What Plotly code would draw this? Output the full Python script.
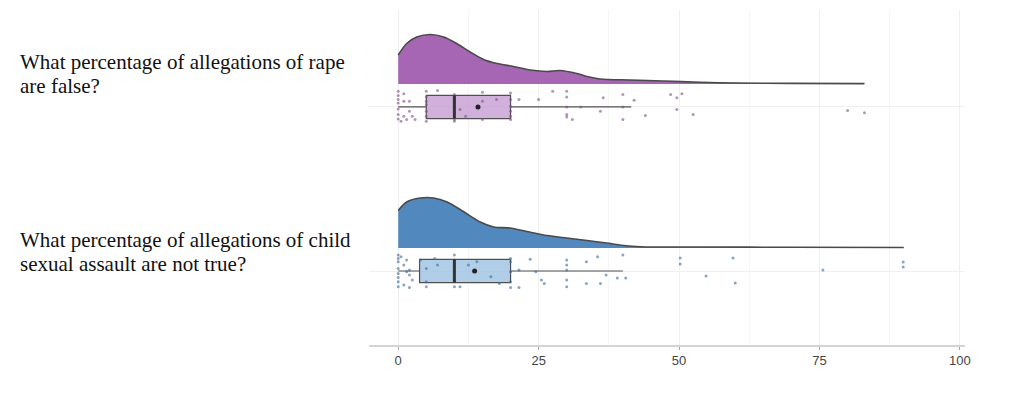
import plotly.graph_objects as go

# ---------------- data ----------------
questions = [["What percentage of allegations of rape", "are false?"],
             ["What percentage of allegations of child", "sexual assault are not true?"]]

tick_vals = [0, 25, 50, 75, 100]
tick_text = ["0", "25", "50", "75", "100"]

# density curves (relative height, peak ~1)
rape_dens_x = [0, 1.5, 3.3, 5.7, 8.1, 10.4, 12.8, 15.2, 17.6, 20.5, 23.5, 26.5, 28.8,
               31.8, 33.6, 35.9, 41.3, 47.2, 53.7, 60, 70, 83]
rape_dens_y = [0.58, 0.81, 0.94, 0.99, 0.94, 0.81, 0.64, 0.49, 0.41, 0.35, 0.28, 0.25, 0.27,
               0.21, 0.15, 0.10, 0.08, 0.06, 0.034, 0.02, 0.012, 0.008]
child_dens_x = [0, 1.5, 3.9, 6.3, 8.7, 11.6, 14.6, 17, 19.9, 22.9, 26.5, 30, 33.6, 37.1,
                40.1, 43.1, 53.7, 70, 90]
child_dens_y = [0.75, 0.92, 1.0, 1.0, 0.92, 0.73, 0.52, 0.42, 0.40, 0.33, 0.25, 0.20, 0.15,
                0.10, 0.052, 0.026, 0.02, 0.016, 0.012]

# box statistics
rape_box = dict(q1=5, median=10, q3=20, lo=0, hi=41.5, mean=14.2)
child_box = dict(q1=3.8, median=10, q3=20, lo=0, hi=40, mean=13.6)

# raw responses (as visible) and their jitter fractions
rape_vals = [0, 0, 0, 0, 0, 0, 0, 1, 1, 1, 0.5, 2, 2.5, 3, 2, 1.5, 5, 5, 5, 5, 5, 5, 5, 7,
             10, 10, 10, 10, 10, 10, 10, 11, 12, 15, 15, 15, 17.5, 20, 20, 20, 20, 20, 20,
             21.5, 25, 27.5, 30, 30, 30, 30, 30, 31, 32.5, 36, 36.5, 40, 40, 40, 42, 44,
             48.5, 49.6, 49.6, 50.5, 52.5, 80, 83]
rape_jit = [0.91, 0.66, 0.43, 0.23, -0.12, -0.44, -0.70, 0.77, 0.33, -0.54, -0.83, 0.33, -0.54,
            -0.73, -0.25, -0.73, 0.91, 0.58, 0.14, -0.25, -0.54, -0.83, 0.33, 0.95,
            0.72, 0.43, 0.0, -0.35, -0.73, -0.83, 0.23, -0.15, -0.54, 0.85, 0.33, -0.73, 0.43,
            0.81, 0.43, 0.04, -0.25, -0.54, -0.73, 0.43, 0.43, 0.91, 0.91, 0.58, 0.0, -0.44,
            -0.58, -0.73, 0.0, -0.25, 0.54, 0.72, 0.0, -0.73, 0.39, -0.5, 0.72, -0.15, 0.54,
            0.77, -0.44, -0.21, -0.33]
child_vals = [0, 0, 0, 0, 0, 0, 0, 0, 0.5, 1, 1.5, 2, 2.5, 1, 2, 1.5, 2, 4, 5, 5, 5, 6.5, 7,
              10, 10, 10, 10, 10, 11, 12.5, 14, 16.5, 18, 20, 20, 20, 20, 20, 21.5, 21.5, 23.5,
              24.5, 25.5, 26, 30, 30, 30, 30, 30, 33.5, 33.5, 35.5, 37, 36, 39, 40.5, 40,
              50.2, 50.2, 59.6, 75.6, 89.9, 89.9, 54.8, 60]
child_jit = [0.93, 0.73, 0.54, 0.15, -0.14, -0.37, -0.62, -0.91, 0.83, 0.35, -0.04, -0.23, -0.52,
             -0.81, -0.95, 0.64, 0.06, 0.64, 0.15, -0.62, -0.91, 0.73, 0.35, 0.93, 0.64, -0.04,
             -0.91, -0.52, -0.91, 0.35, 0.54, -0.33, -0.72, 0.73, 0.54, -0.04, -0.62, -0.95,
             0.06, -0.95, 0.68, -0.04, -0.52, -0.72, 0.64, 0.35, 0.06, -0.52, -0.91, 0.54,
             -0.72, 0.83, -0.23, -0.72, -0.41, -0.41, 0.93, 0.75, 0.41, 0.75, 0.06, 0.52, 0.23,
             -0.29, -0.70]

# ---------------- styling ----------------
groups = [
    dict(center=2, lines=questions[0], dx=rape_dens_x, dy=rape_dens_y, box=rape_box,
         vals=rape_vals, jit=rape_jit, dens_col="#a666b4", box_col="rgba(198,156,210,0.8)",
         pt_col="rgba(125,80,135,0.6)", label_y=[2.274, 2.128]),
    dict(center=1, lines=questions[1], dx=child_dens_x, dy=child_dens_y, box=child_box,
         vals=child_vals, jit=child_jit, dens_col="#5189bf", box_col="rgba(158,194,226,0.8)",
         pt_col="rgba(60,105,155,0.6)", label_y=[1.189, 1.043]),
]
DENS_OFF = 0.14
DENS_H = 0.305
BOX_HALF = 0.071
JIT_HALF = 0.105

# page body has an 8px margin; compensate so plot area sits at x 369..965, y 10..345
BODY = 8
ML, MR, MT, MB = 369 - BODY, 59, 10 - BODY, 48
PLOT_W = 1024 - BODY - ML - MR

fig = go.Figure()
for g in groups:
    c = g["center"]
    base = c + DENS_OFF
    fig.add_trace(go.Scatter(x=g["dx"], y=[base] * len(g["dx"]), mode="lines",
                             line=dict(width=0, color=g["dens_col"]), hoverinfo="skip",
                             showlegend=False))
    fig.add_trace(go.Scatter(x=g["dx"], y=[base + v * DENS_H for v in g["dy"]], mode="lines",
                             line=dict(width=1.6, color="#4a4a4a", shape="spline", smoothing=0.8),
                             fill="tonexty", fillcolor=g["dens_col"], hoverinfo="skip",
                             showlegend=False))
    b = g["box"]
    fig.add_trace(go.Box(orientation="h", y=[c], q1=[b["q1"]], median=[b["median"]],
                         q3=[b["q3"]], lowerfence=[b["lo"]], upperfence=[b["hi"]],
                         width=2 * BOX_HALF, whiskerwidth=0, fillcolor=g["box_col"],
                         line=dict(color="#505050", width=1.2), showlegend=False,
                         hoverinfo="skip"))
    fig.add_trace(go.Scatter(x=g["vals"], y=[c + j * JIT_HALF for j in g["jit"]],
                             mode="markers", marker=dict(size=3, color=g["pt_col"]),
                             hoverinfo="skip", showlegend=False))
    fig.add_trace(go.Scatter(x=[b["median"], b["median"]], y=[c - BOX_HALF, c + BOX_HALF],
                             mode="lines", line=dict(color="#333333", width=3),
                             hoverinfo="skip", showlegend=False))
    fig.add_trace(go.Scatter(x=[b["mean"]], y=[c], mode="markers",
                             marker=dict(size=5, color="#222222"), hoverinfo="skip",
                             showlegend=False))
    for line_text, ly in zip(g["lines"], g["label_y"]):
        fig.add_annotation(text=line_text, xref="paper", yref="y", x=(18 - 369) / PLOT_W,
                           y=ly, xanchor="left", yanchor="middle", showarrow=False,
                           align="left", font=dict(family="Liberation Serif", size=21,
                                                    color="#111111"))

fig.update_layout(
    width=1024 - BODY, height=393 - BODY,
    margin=dict(l=ML, r=MR, t=MT, b=MB),
    paper_bgcolor="white", plot_bgcolor="white",
    xaxis=dict(range=[-5.2, 100.9], tickvals=tick_vals, ticktext=tick_text,
               showgrid=True, gridcolor="#efefef", gridwidth=1,
               minor=dict(dtick=12.5, tick0=0, showgrid=True, gridcolor="#f6f6f6"),
               zeroline=False, showline=True, linecolor="#d4d4d4", linewidth=1.5,
               ticks="outside", ticklen=3, tickcolor="#aaaaaa",
               tickfont=dict(family="Liberation Sans", size=13, color="#444444")),
    yaxis=dict(range=[0.549, 2.591], tickvals=[1, 2], showticklabels=False,
               showgrid=True, gridcolor="#f0f0f0", zeroline=False, showline=False),
    showlegend=False,
)

fig.write_html("out.html")
